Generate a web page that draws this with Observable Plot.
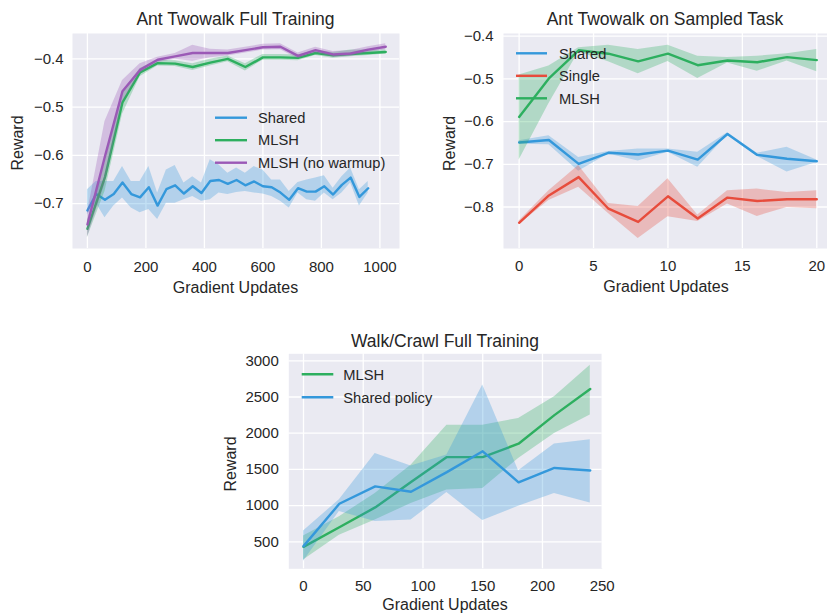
<!DOCTYPE html>
<html><head><meta charset="utf-8">
<script src="https://cdn.jsdelivr.net/npm/d3@7"></script>
<script src="https://cdn.jsdelivr.net/npm/@observablehq/plot@0.6"></script>
<style>
body{margin:0;background:#fff;font-family:"Liberation Sans",Arial,sans-serif;color:#262626}
#root{position:relative;width:827px;height:613px;overflow:hidden;background:#fff}
.panel{position:absolute}
#overlay{position:absolute;left:0;top:0;pointer-events:none}
</style></head><body><div id="root"></div>
<script>
// ---------- colors ----------
const BLUE = "#3498db", GREEN = "#2daf5f", RED = "#e74c3c", PURPLE = "#9b59b6";

// ---------- Panel 1: Ant Twowalk Full Training ----------
const p1SharedX = [0,30,60,90,120,150,180,210,240,270,300,330,360,390,420,450,480,510,540,570,600,630,660,690,720,750,780,810,840,870,900,930,960];
const p1SharedY = [-0.714,-0.680,-0.692,-0.680,-0.656,-0.680,-0.687,-0.666,-0.704,-0.670,-0.662,-0.679,-0.664,-0.678,-0.653,-0.651,-0.659,-0.651,-0.662,-0.654,-0.664,-0.666,-0.677,-0.692,-0.668,-0.675,-0.675,-0.664,-0.681,-0.661,-0.646,-0.686,-0.668];
const p1SharedLo = [-0.723,-0.699,-0.729,-0.705,-0.688,-0.709,-0.719,-0.712,-0.733,-0.699,-0.699,-0.692,-0.685,-0.695,-0.692,-0.678,-0.681,-0.677,-0.675,-0.678,-0.680,-0.685,-0.695,-0.709,-0.678,-0.692,-0.695,-0.678,-0.692,-0.678,-0.657,-0.705,-0.678];
const p1SharedHi = [-0.671,-0.654,-0.654,-0.654,-0.623,-0.654,-0.654,-0.623,-0.678,-0.630,-0.621,-0.657,-0.644,-0.657,-0.609,-0.620,-0.637,-0.626,-0.637,-0.623,-0.630,-0.651,-0.651,-0.675,-0.656,-0.651,-0.647,-0.642,-0.668,-0.644,-0.626,-0.671,-0.654];
const p1MlshX = [0,60,120,180,240,300,360,420,480,540,600,660,720,780,840,900,960,1020];
const p1MlshY  = [-0.752,-0.645,-0.490,-0.428,-0.409,-0.410,-0.417,-0.408,-0.400,-0.417,-0.397,-0.397,-0.398,-0.388,-0.393,-0.390,-0.388,-0.386];
const p1MlshLo = [-0.770,-0.675,-0.515,-0.437,-0.415,-0.416,-0.424,-0.415,-0.406,-0.425,-0.403,-0.403,-0.404,-0.393,-0.399,-0.396,-0.393,-0.390];
const p1MlshHi = [-0.735,-0.615,-0.470,-0.420,-0.403,-0.404,-0.410,-0.401,-0.394,-0.410,-0.391,-0.391,-0.392,-0.383,-0.387,-0.382,-0.382,-0.382];
const p1NoWarmY  = [-0.743,-0.602,-0.467,-0.423,-0.402,-0.395,-0.388,-0.388,-0.388,-0.382,-0.376,-0.375,-0.394,-0.382,-0.391,-0.389,-0.381,-0.375];
const p1NoWarmLo = [-0.770,-0.660,-0.490,-0.430,-0.408,-0.401,-0.405,-0.398,-0.394,-0.388,-0.382,-0.381,-0.400,-0.388,-0.397,-0.395,-0.387,-0.381];
const p1NoWarmHi = [-0.720,-0.530,-0.445,-0.410,-0.397,-0.389,-0.372,-0.380,-0.382,-0.376,-0.370,-0.369,-0.388,-0.376,-0.385,-0.383,-0.375,-0.369];
const p1XTicks = [0,200,400,600,800,1000];
const p1YTicks = [-0.7,-0.6,-0.5,-0.4];

// ---------- Panel 2: Ant Twowalk on Sampled Task ----------
const p2X = [0,2,4,6,8,10,12,14,16,18,20];
const p2SharedY  = [-0.649,-0.643,-0.699,-0.673,-0.677,-0.668,-0.689,-0.629,-0.678,-0.687,-0.693];
const p2SharedLo = [-0.653,-0.654,-0.716,-0.676,-0.692,-0.672,-0.707,-0.632,-0.682,-0.718,-0.696];
const p2SharedHi = [-0.645,-0.633,-0.684,-0.670,-0.664,-0.664,-0.672,-0.626,-0.674,-0.660,-0.690];
const p2SingleY  = [-0.837,-0.773,-0.730,-0.804,-0.835,-0.775,-0.827,-0.778,-0.786,-0.782,-0.782];
const p2SingleLo = [-0.841,-0.785,-0.754,-0.815,-0.874,-0.823,-0.834,-0.793,-0.822,-0.801,-0.804];
const p2SingleHi = [-0.833,-0.762,-0.703,-0.792,-0.799,-0.734,-0.819,-0.762,-0.758,-0.766,-0.762];
const p2MlshY  = [-0.589,-0.499,-0.433,-0.441,-0.459,-0.441,-0.468,-0.457,-0.461,-0.449,-0.456];
const p2MlshLo = [-0.690,-0.558,-0.437,-0.460,-0.488,-0.459,-0.499,-0.463,-0.482,-0.458,-0.483];
const p2MlshHi = [-0.491,-0.470,-0.427,-0.421,-0.431,-0.421,-0.447,-0.450,-0.447,-0.441,-0.431];
const p2XTicks = [0,5,10,15,20];
const p2YTicks = [-0.8,-0.7,-0.6,-0.5,-0.4];

// ---------- Panel 3: Walk/Crawl Full Training ----------
const p3X = [0,30,60,90,120,150,180,210,240];
const p3MlshY  = [430,700,975,1325,1670,1670,1855,2250,2610];
const p3MlshLo = [250,592,800,1030,1214,1237,1651,1996,2250];
const p3MlshHi = [580,845,1168,1559,2111,2111,2204,2503,2940];
const p3SharedY  = [440,1025,1265,1192,1462,1750,1322,1520,1485];
const p3SharedLo = [230,920,780,800,1180,793,990,1166,1036];
const p3SharedHi = [650,1080,1720,1548,1700,2665,1480,1850,1911];
const p3XTicks = [0,50,100,150,200,250];
const p3YTicks = [500,1000,1500,2000,2500,3000];

// ---------- helpers ----------
const fmtInt = d3.format("d");
const fmt1 = d3.format(".1f");
function rows(xs, ys, lo, hi) { return xs.map((x, i) => ({x, y: ys[i], lo: lo[i], hi: hi[i]})); }

function panel(o) {
  const marks = [
    Plot.frame({fill: "#EAEAF2", stroke: null}),
    Plot.gridX({ticks: o.xt, stroke: "white", strokeOpacity: 1, strokeWidth: 1.3}),
    Plot.gridY({ticks: o.yt, stroke: "white", strokeOpacity: 1, strokeWidth: 1.3}),
    Plot.axisX({ticks: o.xt, tickFormat: o.xf, tickSize: 0, tickPadding: o.padX, label: null, fontSize: 15, fill: "#262626"}),
    Plot.axisY({ticks: o.yt, tickFormat: o.yf, tickSize: 0, tickPadding: o.padY, label: null, fontSize: 15, fill: "#262626"})
  ];
  for (const s of o.series) {
    marks.push(Plot.areaY(s.data, {x: "x", y1: "lo", y2: "hi", fill: s.color, fillOpacity: 0.3}));
    marks.push(Plot.lineY(s.data, {x: "x", y: "y", stroke: s.color, strokeWidth: 2.4}));
  }
  const svg = Plot.plot({
    width: o.w, height: o.h,
    marginLeft: o.ml, marginRight: o.mr, marginTop: o.mt, marginBottom: o.mb,
    x: {domain: o.xd}, y: {domain: o.yd},
    style: {fontFamily: '"Liberation Sans", Arial, sans-serif', fontSize: "15px", color: "#262626", background: "transparent", overflow: "visible"},
    marks
  });
  svg.classList.add("panel");
  svg.style.left = o.left + "px";
  svg.style.top = o.top + "px";
  return svg;
}

const root = document.getElementById("root");

root.appendChild(panel({
  left: 0, top: 0, w: 410, h: 300, ml: 72, mr: 11, mt: 33, mb: 52,
  xd: [-51, 1067], yd: [-0.7928, -0.3476], xt: p1XTicks, yt: p1YTicks, xf: fmtInt, yf: fmt1, padX: 13, padY: 9,
  series: [
    {data: rows(p1SharedX, p1SharedY, p1SharedLo, p1SharedHi), color: BLUE},
    {data: rows(p1MlshX, p1MlshY, p1MlshLo, p1MlshHi), color: GREEN},
    {data: rows(p1MlshX, p1NoWarmY, p1NoWarmLo, p1NoWarmHi), color: PURPLE}
  ]
}));

root.appendChild(panel({
  left: 410, top: 0, w: 417, h: 300, ml: 93, mr: 0, mt: 33, mb: 52,
  xd: [-1.05, 20.72], yd: [-0.8972, -0.3937], xt: p2XTicks, yt: p2YTicks, xf: fmtInt, yf: fmt1, padX: 12, padY: 10,
  series: [
    {data: rows(p2X, p2SharedY, p2SharedLo, p2SharedHi), color: BLUE},
    {data: rows(p2X, p2SingleY, p2SingleLo, p2SingleHi), color: RED},
    {data: rows(p2X, p2MlshY, p2MlshLo, p2MlshHi), color: GREEN}
  ]
}));

root.appendChild(panel({
  left: 210, top: 320, w: 410, h: 293, ml: 78.3, mr: 18.3, mt: 33.3, mb: 44.7,
  xd: [-12.3, 250], yd: [127, 3097], xt: p3XTicks, yt: p3YTicks, xf: fmtInt, yf: fmtInt, padX: 12, padY: 10,
  series: [
    {data: rows(p3X, p3MlshY, p3MlshLo, p3MlshHi), color: GREEN},
    {data: rows(p3X, p3SharedY, p3SharedLo, p3SharedHi), color: BLUE}
  ]
}));

// ---------- titles, axis labels, legends ----------
const NS = "http://www.w3.org/2000/svg";
const ov = document.createElementNS(NS, "svg");
ov.setAttribute("id", "overlay");
ov.setAttribute("width", 827); ov.setAttribute("height", 613);
ov.setAttribute("font-family", '"Liberation Sans", Arial, sans-serif');
ov.setAttribute("fill", "#262626");
root.appendChild(ov);

function txt(s, x, y, size, anchor, rot) {
  const t = document.createElementNS(NS, "text");
  t.textContent = s;
  t.setAttribute("font-size", size);
  t.setAttribute("text-anchor", anchor || "start");
  if (rot) t.setAttribute("transform", `translate(${x},${y}) rotate(-90)`);
  else { t.setAttribute("x", x); t.setAttribute("y", y); }
  ov.appendChild(t);
}
function legend(items, x0, x1, xt, y0, dy) {
  items.forEach(([label, color], i) => {
    const y = y0 + i * dy;
    const l = document.createElementNS(NS, "line");
    l.setAttribute("x1", x0); l.setAttribute("x2", x1);
    l.setAttribute("y1", y); l.setAttribute("y2", y);
    l.setAttribute("stroke", color); l.setAttribute("stroke-width", 2.4);
    ov.appendChild(l);
    txt(label, xt, y + 5.2, 14.7, "start");
  });
}

txt("Ant Twowalk Full Training", 235.5, 25, 17.5, "middle");
txt("Ant Twowalk on Sampled Task", 665, 25, 17.5, "middle");
txt("Walk/Crawl Full Training", 445, 346.5, 17.5, "middle");
txt("Gradient Updates", 235.5, 292.5, 16, "middle");
txt("Gradient Updates", 666, 292, 16, "middle");
txt("Gradient Updates", 445, 609.5, 16, "middle");
txt("Reward", 22.5, 143, 16, "middle", true);
txt("Reward", 455, 143.5, 16, "middle", true);
txt("Reward", 236, 464, 16, "middle", true);

legend([["Shared", BLUE], ["MLSH", GREEN], ["MLSH (no warmup)", PURPLE]], 215, 247, 258, 117.7, 22.5);
legend([["Shared", BLUE], ["Single", RED], ["MLSH", GREEN]], 516, 547, 559, 53.3, 22.5);
legend([["MLSH", GREEN], ["Shared policy", BLUE]], 301.7, 333.3, 343.3, 374.3, 23);
</script></body></html>
